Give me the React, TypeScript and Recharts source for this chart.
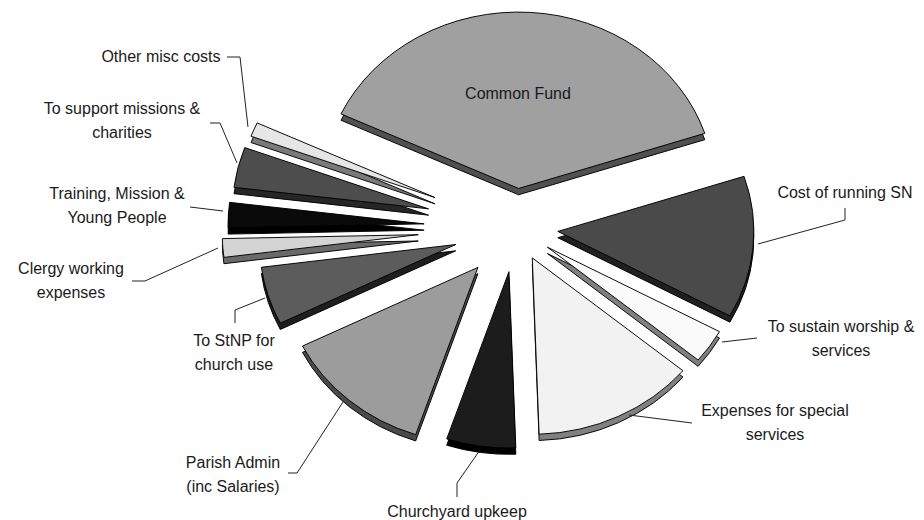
import { Pie, PieChart, Sector } from "recharts";

// slice order follows the chart counter-clockwise from Common Fund
const categories = [
  "Common Fund",
  "Other misc costs",
  "To support missions & charities",
  "Training, Mission & Young People",
  "Clergy working expenses",
  "To StNP for church use",
  "Parish Admin (inc Salaries)",
  "Churchyard upkeep",
  "Expenses for special services",
  "To sustain worship & services",
  "Cost of running SN",
];
const shares = [38.0, 1.3, 3.7, 2.3, 1.7, 5.3, 12.5, 5.7, 13.4, 3.1, 13.0];
const labelLines = [
  ["Common Fund"],
  ["Other misc costs"],
  ["To support missions &", "charities"],
  ["Training, Mission &", "Young People"],
  ["Clergy working", "expenses"],
  ["To StNP for", "church use"],
  ["Parish Admin", "(inc Salaries)"],
  ["Churchyard upkeep"],
  ["Expenses for special", "services"],
  ["To sustain worship &", "services"],
  ["Cost of running SN"],
];

const data = categories.map((name, i) => ({ name, value: shares[i] }));

// look of the 3d exploded pie
const topColors = ["#a0a0a0", "#e6e6e6", "#4d4d4d", "#0a0a0a", "#d4d4d4", "#5c5c5c", "#9c9c9c", "#1c1c1c", "#f2f2f2", "#fafafa", "#4a4a4a"];
const sideColors = ["#505050", "#7a7a7a", "#262626", "#000000", "#6a6a6a", "#1e1e1e", "#4a4a4a", "#000000", "#808080", "#808080", "#202020"];
const explode = [44, 88, 90, 92, 98, 63, 58, 49, 37, 38, 42];
const TILT = 0.9;
const DEPTH = 7;

// label text placement and leader lines
const labelLayout: { x: number; y: number; leader: number[][] }[] = [
  { x: 518, y: 99, leader: [] },
  { x: 161, y: 62, leader: [[227, 57], [240, 57], [248, 127]] },
  { x: 122, y: 114, leader: [[210, 123], [220, 123], [237, 163]] },
  { x: 117, y: 199, leader: [[190, 207], [223, 211]] },
  { x: 71, y: 274, leader: [[132, 281], [145, 281], [218, 248]] },
  { x: 234, y: 346, leader: [[235, 323], [235, 310], [265, 298]] },
  { x: 233, y: 468, leader: [[288, 473], [297, 473], [343, 402]] },
  { x: 457, y: 517, leader: [[457, 497], [457, 483], [480, 450]] },
  { x: 775, y: 416, leader: [[629, 415], [692, 423]] },
  { x: 841, y: 332, leader: [[722, 342], [757, 338]] },
  { x: 845, y: 198, leader: [[758, 244], [845, 220], [845, 208]] },
];

const RAD = Math.PI / 180;

function renderSlice(props: any) {
  const { cx, cy, outerRadius, startAngle, endAngle, midAngle, index } = props;
  const d = explode[index];
  const sx = cx + d * Math.cos(-midAngle * RAD);
  const sy = cy + d * Math.sin(-midAngle * RAD);
  const tilt = `translate(0 ${cy}) scale(1 ${TILT}) translate(0 ${-cy})`;
  const lay = labelLayout[index];
  return (
    <g key={`slice-${index}`}>
      <g transform={tilt}>
        <Sector
          cx={sx}
          cy={sy + DEPTH}
          innerRadius={0}
          outerRadius={outerRadius}
          startAngle={startAngle}
          endAngle={endAngle}
          fill={sideColors[index]}
          stroke="#000"
          strokeWidth={1}
        />
        <Sector
          cx={sx}
          cy={sy}
          innerRadius={0}
          outerRadius={outerRadius}
          startAngle={startAngle}
          endAngle={endAngle}
          fill={topColors[index]}
          stroke="#000"
          strokeWidth={1}
        />
      </g>
      {lay.leader.length > 0 && (
        <polyline
          points={lay.leader.map((p) => p.join(",")).join(" ")}
          fill="none"
          stroke="#222"
          strokeWidth={1}
        />
      )}
      <text
        x={lay.x}
        y={lay.y}
        textAnchor="middle"
        fontFamily="'Liberation Sans', Arial, sans-serif"
        fontSize={16}
        fill="#1a1a1a"
      >
        {labelLines[index].map((line, j) => (
          <tspan key={j} x={lay.x} dy={j === 0 ? 0 : 24}>
            {line}
          </tspan>
        ))}
      </text>
    </g>
  );
}

export default function App() {
  return (
    <div style={{ position: "absolute", left: 0, top: 0, background: "#fff" }}>
      <PieChart width={924} height={520} margin={{ top: 0, right: 0, bottom: 0, left: 0 }}>
        <Pie
          data={data}
          dataKey="value"
          nameKey="name"
          cx={516}
          cy={228}
          innerRadius={0}
          outerRadius={196}
          startAngle={18.2}
          endAngle={378.2}
          fill="transparent"
          stroke="none"
          label={renderSlice}
          labelLine={false}
          isAnimationActive={false}
        />
      </PieChart>
    </div>
  );
}
